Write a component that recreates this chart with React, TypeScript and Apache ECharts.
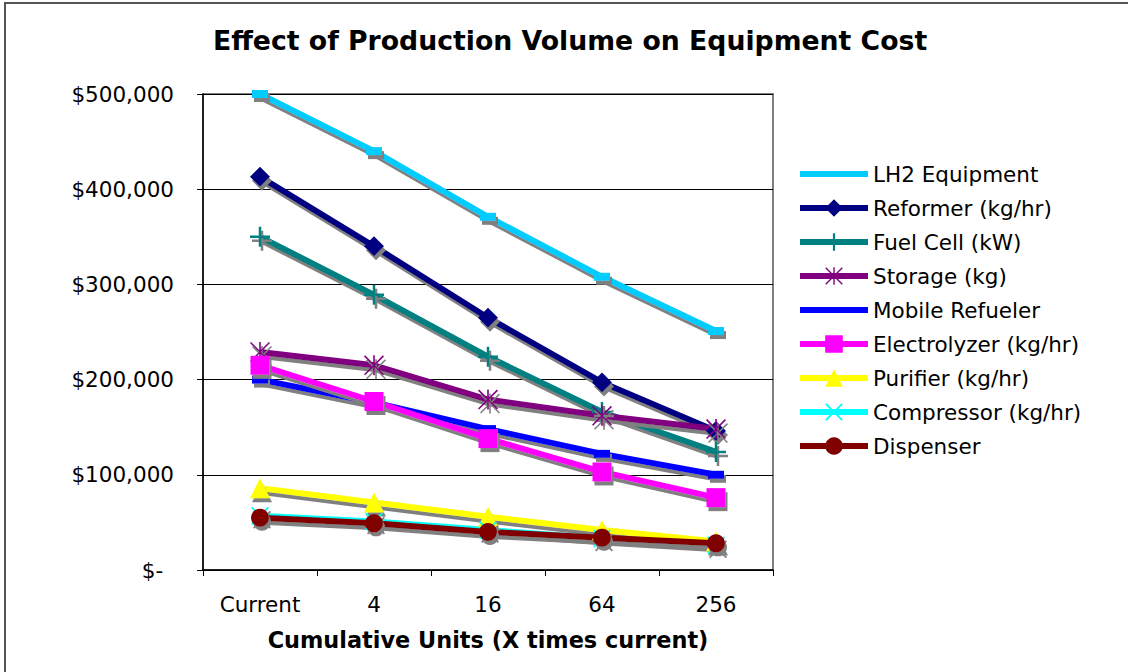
import React, { useEffect, useRef } from 'react';
import * as echarts from 'echarts';

const categories = ['Current', '4', '16', '64', '256'];
const yTicks = [0, 100000, 200000, 300000, 400000, 500000];

const lh2Equipment = [500000, 440000, 371000, 308000, 251000];
const reformer = [413000, 340000, 265000, 197000, 146000];
const fuelCell = [350000, 289000, 224000, 166000, 124000];
const storage = [229000, 215000, 179000, 162000, 148000];
const mobileRefueler = [200000, 176000, 148000, 122000, 100000];
const electrolyzer = [215000, 177000, 138000, 103000, 76000];
const purifier = [86000, 71000, 56000, 42000, 30000];
const compressor = [57000, 51000, 42000, 33000, 26000];
const dispenser = [55000, 49000, 40000, 34000, 28000];

const PLUS = 'path://M7,0h2v7h7v2h-7v7h-2v-7h-7v-2h7z';
const XMARK = 'path://M0,1.4L1.4,0L20,18.6L18.6,20Z M18.6,0L20,1.4L1.4,20L0,18.6Z';
const STAR = 'path://M9.2,0h1.6v20h-1.6z M0,1.1L1.1,0L20,18.9L18.9,20Z M18.9,0L20,1.1L1.1,20L0,18.9Z';
const LINE_ICON = 'path://M0,0h68v6h-68z';

const seriesDefs = [
  { name: 'LH2 Equipment', data: lh2Equipment, color: '#00CCFF', symbol: 'rect', size: [16, 8], lineOnly: true },
  { name: 'Reformer (kg/hr)', data: reformer, color: '#000080', symbol: 'diamond', size: 20 },
  { name: 'Fuel Cell (kW)', data: fuelCell, color: '#008080', symbol: PLUS, size: 20 },
  { name: 'Storage (kg)', data: storage, color: '#800080', symbol: STAR, size: 20 },
  { name: 'Mobile Refueler', data: mobileRefueler, color: '#0000FF', symbol: 'rect', size: [16, 8], lineOnly: true },
  { name: 'Electrolyzer (kg/hr)', data: electrolyzer, color: '#FF00FF', symbol: 'rect', size: 19 },
  { name: 'Purifier (kg/hr)', data: purifier, color: '#FFFF00', symbol: 'triangle', size: 20 },
  { name: 'Compressor (kg/hr)', data: compressor, color: '#00FFFF', symbol: XMARK, size: 18 },
  { name: 'Dispenser', data: dispenser, color: '#800000', symbol: 'circle', size: 18 },
];

const FONT = '"DejaVu Sans", Verdana, sans-serif';

export default function App() {
  const ref = useRef<HTMLDivElement>(null);
  useEffect(() => {
    if (!ref.current) return;
    const chart = echarts.init(ref.current, null, { renderer: 'svg' });
    const shadow = { shadowColor: '#808080', shadowBlur: 0, shadowOffsetX: 2, shadowOffsetY: 4 };
    chart.setOption({
      animation: false,
      backgroundColor: '#ffffff',
      title: {
        text: 'Effect of Production Volume on Equipment Cost',
        left: 213,
        top: 27,
        padding: 0,
        textStyle: { fontFamily: FONT, fontWeight: 'bold', fontSize: 26.7, color: '#000' },
      },
      graphic: [
        {
          type: 'rect',
          shape: { x: 5, y: 3, width: 1300, height: 800 },
          style: { fill: 'none', stroke: '#555555', lineWidth: 2 },
          silent: true,
        },
      ],
      legend: {
        orient: 'vertical',
        left: 797,
        top: 163,
        itemWidth: 68,
        itemHeight: 22,
        itemGap: 12,
        padding: 0,
        textStyle: { fontFamily: FONT, fontSize: 21.5, color: '#000', lineHeight: 22 },
        lineStyle: { width: 6, shadowColor: 'transparent', shadowOffsetX: 0, shadowOffsetY: 0 },
        itemStyle: { shadowColor: 'transparent', shadowOffsetX: 0, shadowOffsetY: 0 },
        data: seriesDefs.map((s) =>
          s.lineOnly
            ? { name: s.name, icon: LINE_ICON, itemStyle: { color: s.color } }
            : { name: s.name }
        ),
      },
      grid: {
        left: 203,
        right: 355,
        top: 94,
        bottom: 102,
        show: true,
        backgroundColor: '#ffffff',
        borderColor: '#808080',
        borderWidth: 2,
      },
      xAxis: {
        type: 'category',
        data: categories,
        boundaryGap: true,
        axisLine: { lineStyle: { color: '#000', width: 1.5 } },
        axisTick: { show: true, length: 6, inside: false, lineStyle: { color: '#000' } },
        axisLabel: { fontFamily: FONT, fontSize: 21.5, color: '#000', margin: 23 },
        name: 'Cumulative Units (X times current)',
        nameLocation: 'middle',
        nameGap: 59,
        nameTextStyle: { fontFamily: FONT, fontWeight: 'bold', fontSize: 22.4, color: '#000' },
      },
      yAxis: {
        type: 'value',
        min: yTicks[0],
        max: yTicks[yTicks.length - 1],
        interval: yTicks[1] - yTicks[0],
        axisLine: { show: true, lineStyle: { color: '#000', width: 1.5 } },
        axisTick: { show: true, length: 6, lineStyle: { color: '#000' } },
        splitLine: { show: true, lineStyle: { color: '#000', width: 1 } },
        axisLabel: {
          fontFamily: FONT,
          fontSize: 21.5,
          color: '#000',
          margin: 29,
          formatter: (v: number) => (v === 0 ? '$-\u2002' : '$' + v.toLocaleString('en-US')),
        },
      },
      series: seriesDefs.map((s) => ({
        name: s.name,
        type: 'line',
        data: s.data,
        symbol: s.symbol,
        symbolSize: s.size,
        showAllSymbol: true,
        lineStyle: { color: s.color, width: 6, ...shadow },
        itemStyle: { color: s.color, ...shadow },
        emphasis: { disabled: true },
      })),
    });
    return () => chart.dispose();
  }, []);
  return (
    <div
      ref={ref}
      style={{ position: 'absolute', left: 0, top: 0, width: 1128, height: 672, background: '#fff' }}
    />
  );
}
